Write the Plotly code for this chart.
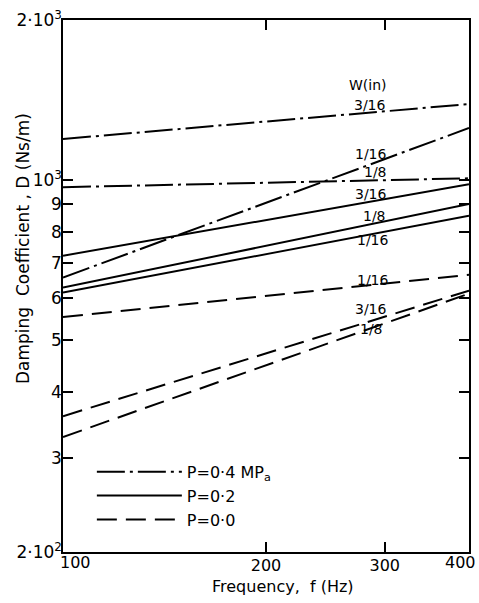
import plotly.graph_objects as go
import math

# ---- data ----
freq = [100, 400]  # Hz
# P = 0.4 MPa (dash-dot)
D_p04_w316 = [1195, 1390]
D_p04_w18 = [970, 1008]
D_p04_w116 = [656, 1253]
# P = 0.2 (solid)
D_p02_w316 = [721, 982]
D_p02_w18 = [628, 902]
D_p02_w116 = [615, 857]
# P = 0.0 (dashed)
D_p00_w116 = [553, 664]
D_p00_w316 = [360, 620]
D_p00_w18 = [329, 612]

y_tickvals = [200, 300, 400, 500, 600, 700, 800, 900, 1000, 2000]
y_ticktext = ["2·10<sup>2</sup>", "3", "4", "5", "6", "7", "8", "9", "10<sup>3</sup>", "2·10<sup>3</sup>"]
x_tickvals = [200, 300]
x_ticktext = ["200", "300"]

W = 479
H = 603
L, R, T, B = 63, 8, 15, 51
pw = W - L - R
ph = H - T - B

FONT = "DejaVu Sans"
DASHDOT = "28px,5px,3px,5px"
DASHED = "20px,9px"

series = [
    ("P=0·4 MP<sub>a</sub>", "p04", DASHDOT, [D_p04_w316, D_p04_w18, D_p04_w116]),
    ("P=0·2", "p02", "solid", [D_p02_w316, D_p02_w18, D_p02_w116]),
    ("P=0·0", "p00", DASHED, [D_p00_w116, D_p00_w316, D_p00_w18]),
]

fig = go.Figure()
for name, grp, dash, ys in series:
    for i, yv in enumerate(ys):
        fig.add_trace(go.Scatter(
            x=freq, y=yv, mode="lines", name=name, legendgroup=grp,
            showlegend=(i == 0),
            line=dict(color="black", width=2, dash=dash),
        ))

def px2paper(px, py):
    return (px - L) / pw, (H - B - py) / ph

labels = [
    ("W(in)", 370, 81),
    ("3/16", 372, 101),
    ("1/16", 373, 150),
    ("1/8", 377, 168),
    ("3/16", 373, 191),
    ("1/8", 376, 213),
    ("1/16", 375, 237),
    ("1/16", 375, 277),
    ("3/16", 373, 307),
    ("1/8", 373, 327),
]
annotations = []
for txt, px, py in labels:
    xp, yp = px2paper(px, py)
    annotations.append(dict(text=txt, x=xp, y=yp, xref="paper", yref="paper",
                            showarrow=False, xanchor="center", yanchor="middle",
                            font=dict(family=FONT, size=14, color="black")))

# x tick labels at the ends
annotations.append(dict(text="100", x=math.log10(100), y=0, xref="x", yref="paper",
                        showarrow=False, xanchor="left", yanchor="top", xshift=-5, yshift=1,
                        font=dict(family=FONT, size=16, color="black")))
annotations.append(dict(text="400", x=math.log10(400), y=0, xref="x", yref="paper",
                        showarrow=False, xanchor="right", yanchor="top", xshift=9, yshift=1,
                        font=dict(family=FONT, size=16, color="black")))
# axis titles
xp, yp = px2paper(284, 587)
annotations.append(dict(text="Frequency,  f (Hz)", x=xp, y=yp, xref="paper", yref="paper",
                        showarrow=False, xanchor="center", yanchor="middle",
                        font=dict(family=FONT, size=16, color="black")))
xp, yp = px2paper(23, 246)
annotations.append(dict(text="Damping  Coefficient , D (Ns/m)", x=xp, y=yp, xref="paper", yref="paper",
                        showarrow=False, xanchor="center", yanchor="middle", textangle=-90,
                        font=dict(family=FONT, size=17, color="black")))

lx, ly = px2paper(92, 454)

fig.update_layout(
    width=W, height=H,
    margin=dict(l=L, r=R, t=T, b=B, pad=0),
    paper_bgcolor="white", plot_bgcolor="white",
    font=dict(family=FONT, size=16, color="black"),
    showlegend=True,
    legend=dict(x=lx, y=ly, xanchor="left", yanchor="top", bgcolor="rgba(0,0,0,0)",
                itemwidth=85, font=dict(family=FONT, size=16, color="black"),
                tracegroupgap=0),
    annotations=annotations,
    xaxis=dict(type="log", range=[math.log10(100), math.log10(400)],
               tickvals=x_tickvals, ticktext=x_ticktext,
               ticks="inside", ticklen=10, tickwidth=1.5, tickcolor="black",
               tickfont=dict(family=FONT, size=16, color="black"),
               ticklabelstandoff=-2,
               showline=True, linecolor="black", linewidth=1.5, mirror="ticks",
               showgrid=False, zeroline=False),
    yaxis=dict(type="log", range=[math.log10(200), math.log10(2000)],
               tickvals=y_tickvals, ticktext=y_ticktext,
               ticks="inside", ticklen=10, tickwidth=1.5, tickcolor="black",
               tickfont=dict(family=FONT, size=17, color="black"),
               ticklabelstandoff=-4,
               showline=True, linecolor="black", linewidth=1.5, mirror="ticks",
               showgrid=False, zeroline=False),
)

fig.write_html("out.html")
